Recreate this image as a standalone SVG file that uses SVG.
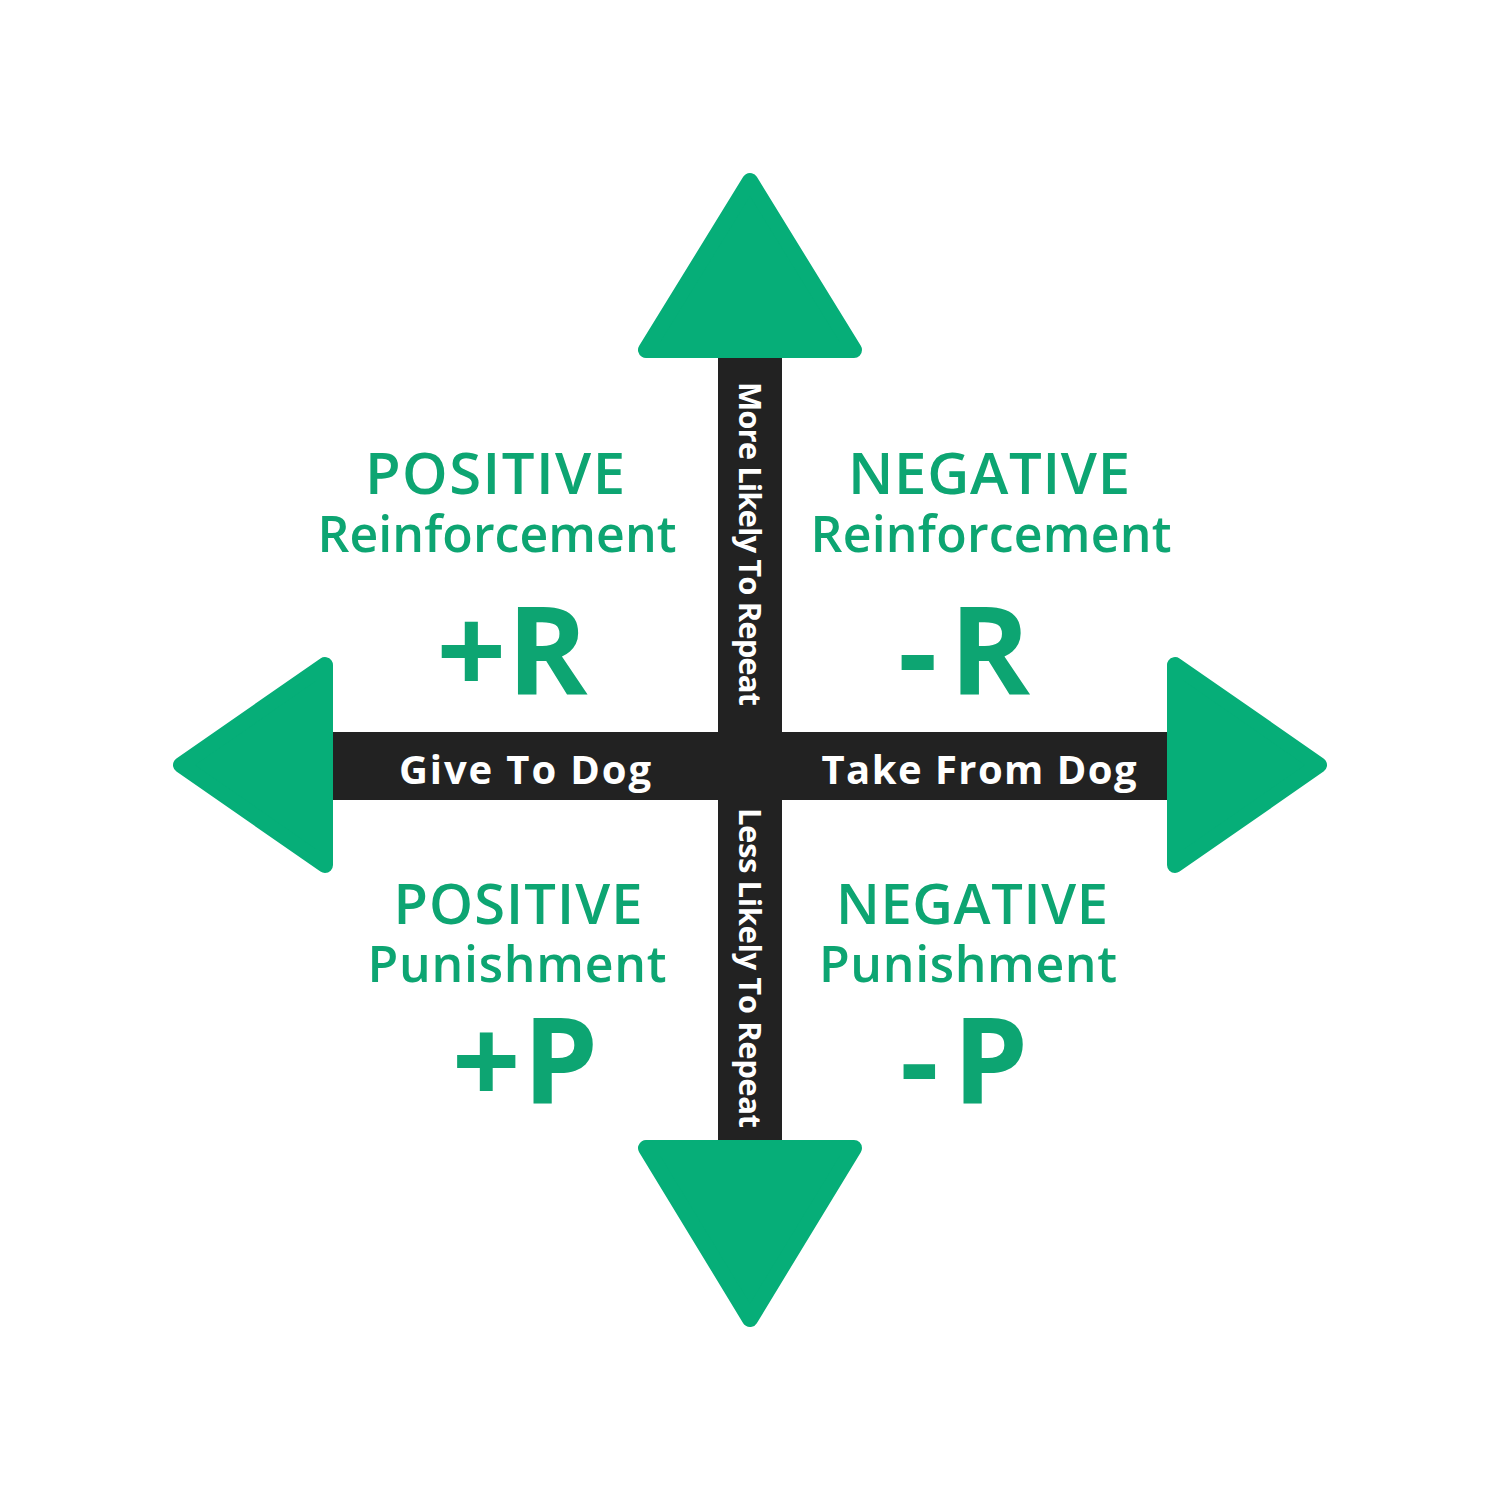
<svg xmlns="http://www.w3.org/2000/svg" width="1500" height="1500" viewBox="0 0 1500 1500">
<style>
.tri{fill:#06AE78;stroke:#06AE78;stroke-width:16;stroke-linejoin:round}
.bar{fill:#222222}
.h{font-family:"Open Sans",Lato,sans-serif;font-weight:600;fill:#0DA572;text-anchor:middle}
.big{font-family:"Open Sans",Lato,sans-serif;font-weight:700;fill:#0DA572;text-anchor:middle}
.w{font-family:"Open Sans",Lato,sans-serif;font-weight:700;fill:#ffffff;text-anchor:middle}
</style>
<rect width="1500" height="1500" fill="#ffffff"/>
<g id="connectors">
<rect class="bar" x="718" y="356" width="64" height="786"/>
<rect class="bar" x="331" y="732" width="838" height="68"/>
</g>
<g id="arrow-up"><polygon class="tri" points="750,181 646,350 854,350"/></g>
<g id="arrow-down"><polygon class="tri" points="750,1319 646,1148 854,1148"/></g>
<g id="arrow-left"><polygon class="tri" points="181,765 325,665 325,865"/></g>
<g id="arrow-right"><polygon class="tri" points="1319,765 1175,665 1175,865"/></g>
<g id="label-give"><text class="w" x="525" y="784" font-size="40" textLength="252">Give To Dog</text></g>
<g id="label-take"><text class="w" x="979" y="784" font-size="40" textLength="315">Take From Dog</text></g>
<g id="label-more"><text class="w" transform="translate(739,544) rotate(90)" font-size="31" textLength="324">More Likely To Repeat</text></g>
<g id="label-less"><text class="w" transform="translate(739,968) rotate(90)" font-size="31" textLength="320">Less Likely To Repeat</text></g>
<g id="pos-reinf">
<text class="h" x="495" y="494" font-size="58" textLength="260">POSITIVE</text>
<text class="h" x="497" y="552" font-size="50" textLength="359">Reinforcement</text>
<text class="big" x="512" y="695" font-size="122" textLength="151">+R</text>
</g>
<g id="neg-reinf">
<text class="h" x="989" y="494" font-size="58" textLength="282">NEGATIVE</text>
<text class="h" x="991" y="552" font-size="50" textLength="361">Reinforcement</text>
<text class="big" x="964" y="695" font-size="122" textLength="132">-R</text>
</g>
<g id="pos-pun">
<text class="h" x="518" y="924" font-size="56" textLength="249">POSITIVE</text>
<text class="h" x="517" y="982" font-size="50" textLength="299">Punishment</text>
<text class="big" x="525" y="1104" font-size="120" textLength="146">+P</text>
</g>
<g id="neg-pun">
<text class="h" x="972" y="924" font-size="56" textLength="272">NEGATIVE</text>
<text class="h" x="968" y="982" font-size="50" textLength="298">Punishment</text>
<text class="big" x="964" y="1104" font-size="120" textLength="128">-P</text>
</g>
</svg>
